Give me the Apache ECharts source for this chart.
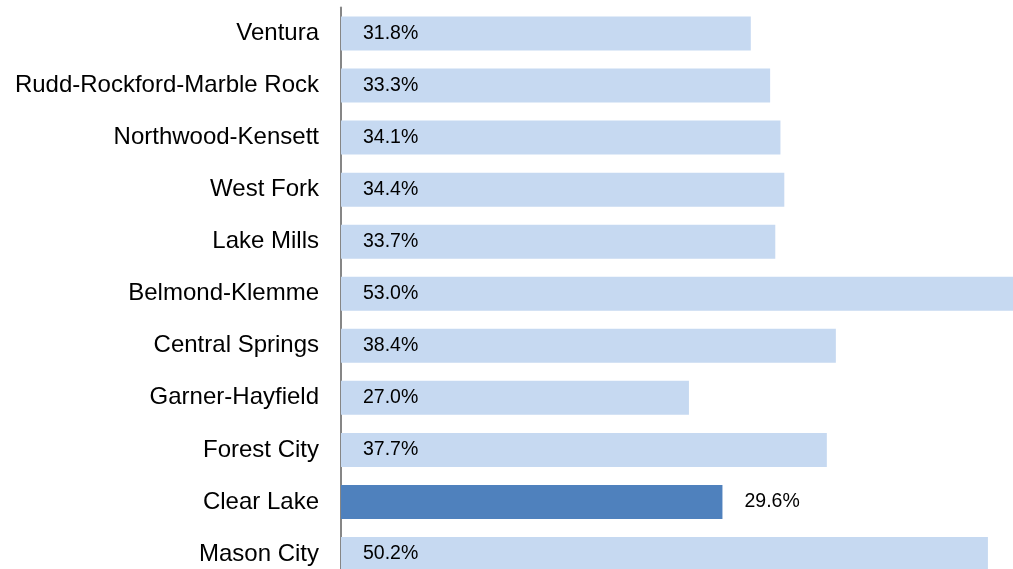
<!DOCTYPE html>
<html>
<head>
<meta charset="utf-8">
<script src="https://cdn.jsdelivr.net/npm/echarts@6/dist/echarts.min.js"></script>
<style>
  html, body { margin: 0; padding: 0; background: #fff; overflow: hidden; }
  /* the original is cropped at the right and bottom, so the chart runs past the window */
  #chart { width: 1024px; height: 580px; }
</style>
</head>
<body>
<div id="chart"></div>
<script>
// districts, top to bottom
const districts = ['Ventura', 'Rudd-Rockford-Marble Rock', 'Northwood-Kensett', 'West Fork', 'Lake Mills',
  'Belmond-Klemme', 'Central Springs', 'Garner-Hayfield', 'Forest City', 'Clear Lake', 'Mason City']
// percent values
const shares = [31.8, 33.3, 34.1, 34.4, 33.7, 53.0, 38.4, 27.0, 37.7, 29.6, 50.2]
// the highlighted district
const highlight = 'Clear Lake'

const lightBlue = '#c6d9f1'
const darkBlue = '#4f81bd'
const font = 'Liberation Sans'

const seriesData = shares.map((v, i) => {
  const isHi = districts[i] === highlight
  return {
    value: v,
    itemStyle: { color: isHi ? darkBlue : lightBlue },
    label: isHi ? { position: 'right', distance: 22 } : { position: 'insideLeft', distance: 22 }
  }
})

const chart = echarts.init(document.getElementById('chart'))
chart.setOption({
  animation: false,
  grid: { left: 341, right: 0, top: 7.5, bottom: 0, containLabel: false },
  xAxis: {
    type: 'value',
    min: 0,
    max: 53,
    show: false
  },
  yAxis: {
    type: 'category',
    inverse: true,
    data: districts,
    axisLine: { show: true, lineStyle: { color: '#868686', width: 2 } },
    axisTick: { show: false },
    axisLabel: { color: '#000', fontFamily: font, fontSize: 24, margin: 22 }
  },
  series: [{
    type: 'bar',
    data: seriesData,
    barWidth: 34,
    label: {
      show: true,
      color: '#000',
      fontFamily: font,
      fontSize: 19.5,
      formatter: p => p.value.toFixed(1) + '%'
    }
  }]
})
</script>
</body>
</html>
